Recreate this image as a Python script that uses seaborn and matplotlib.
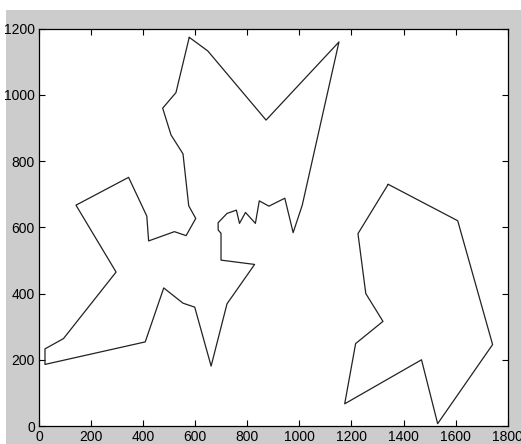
import matplotlib
matplotlib.use("Agg")
import matplotlib.pyplot as plt
import seaborn as sns
import pandas as pd
from matplotlib.patches import Rectangle

# Tour 1 (left closed loop)
tour1_x = [577, 648, 872, 1152, 1011, 976, 944, 883, 846, 831, 793, 770, 758, 722,
           688, 688, 699, 699, 828, 722, 661, 598, 553, 479, 408, 23, 23, 94, 296,
           142, 344, 414, 421, 520, 565, 602, 575, 553, 507, 475, 526]
tour1_y = [1174, 1133, 924, 1160, 667, 584, 688, 664, 680, 612, 645, 612, 652, 642,
           614, 592, 582, 501, 488, 369, 181, 359, 371, 417, 254, 186, 233, 264, 465,
           667, 751, 634, 559, 587, 575, 627, 665, 822, 879, 960, 1007]

# Tour 2 (right closed loop)
tour2_x = [1341, 1608, 1742, 1531, 1469, 1174, 1216, 1321, 1255, 1225]
tour2_y = [730, 620, 246, 7, 200, 67, 249, 316, 400, 581]

x_ticks = [0, 200, 400, 600, 800, 1000, 1200, 1400, 1600, 1800]
y_ticks = [0, 200, 400, 600, 800, 1000, 1200]

sns.set_style("ticks")
plt.rcParams['font.family'] = ['Liberation Sans', 'DejaVu Sans']

fig = plt.figure(figsize=(5.21, 4.44), dpi=100)
fig.patch.set_facecolor("white")
fig.patches.append(Rectangle((6 / 521, 0), 1, (444 - 10) / 444, transform=fig.transFigure,
                             facecolor="#cccccc", edgecolor="none", zorder=-10))

ax = fig.add_axes([39 / 521, 18 / 444, (507.7 - 39) / 521, (426 - 28.7) / 444])
ax.set_facecolor("white")

for xs, ys in [(tour1_x, tour1_y), (tour2_x, tour2_y)]:
    df = pd.DataFrame({"x": xs + [xs[0]], "y": ys + [ys[0]]})
    sns.lineplot(data=df, x="x", y="y", sort=False, estimator=None, ax=ax,
                 color="#222222", linewidth=0.9)

ax.set_xlim(0, 1800)
ax.set_ylim(0, 1200)
ax.set_xticks(x_ticks)
ax.set_yticks(y_ticks)
ax.set_xlabel("")
ax.set_ylabel("")
ax.tick_params(direction="in", top=True, right=True, length=4, width=0.8,
               labelsize=10, pad=3, colors="black")
for s in ax.spines.values():
    s.set_visible(True)
    s.set_linewidth(0.9)
    s.set_color("black")

fig.savefig("out.png", dpi=100, facecolor=fig.get_facecolor())
